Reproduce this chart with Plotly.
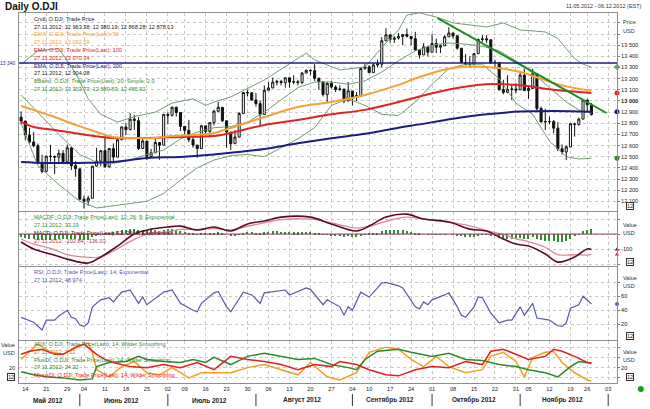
import pandas as pd
import plotly.graph_objects as go
from plotly.subplots import make_subplots

# ------------------------------------------------------------------ data
holidays = ["2012-05-28", "2012-07-04", "2012-09-03", "2012-10-29", "2012-10-30", "2012-11-22"]
first_day, last_axis_day = "2012-05-11", "2012-12-06"

opens = [12855, 12820, 12695, 12632, 12598, 12442, 12369, 12504, 12502, 12496,
         12530, 12455, 12580, 12420, 12391, 12119, 12101, 12127, 12416, 12460,
         12555, 12411, 12573, 12496, 12652, 12767, 12742, 12837, 12823, 12574,
         12640, 12502, 12535, 12627, 12603, 12879, 12871, 12943, 12897, 12772,
         12736, 12653, 12604, 12573, 12777, 12727, 12805, 12908, 12943, 12822,
         12721, 12617, 12676, 12888, 13075, 13073, 13009, 12976, 12879, 13096,
         13117, 13168, 13175, 13165, 13208, 13169, 13172, 13165, 13250, 13275,
         13271, 13203, 13172, 13057, 13158, 13125, 13103, 13107, 13000, 13090,
         13036, 13048, 13292, 13306, 13254, 13323, 13330, 13540, 13593, 13553,
         13564, 13578, 13597, 13579, 13559, 13457, 13413, 13485, 13437, 13515,
         13482, 13495, 13575, 13610, 13584, 13473, 13345, 13326, 13329, 13424,
         13552, 13557, 13549, 13343, 13344, 13103, 13077, 13104, 13107, 13099,
         13232, 13093, 13112, 13244, 12932, 12811, 12815, 12815, 12756, 12571,
         12542, 12588, 12795, 12788, 12837, 13009, 12963.38]
highs = [12907, 12820, 12760, 12720, 12618, 12518, 12510, 12606, 12510, 12563,
         12560, 12610, 12580, 12460, 12391, 12150, 12150, 12415, 12580, 12556,
         12675, 12576, 12620, 12670, 12769, 12800, 12890, 12875, 12855, 12660,
         12640, 12570, 12660, 12627, 12882, 12900, 12950, 12950, 12897, 12772,
         12830, 12680, 12604, 12785, 12777, 12810, 12920, 12990, 12943, 12822,
         12721, 12740, 12900, 13080, 13100, 13080, 13070, 13000, 13140, 13170,
         13210, 13190, 13190, 13210, 13208, 13230, 13190, 13260, 13280, 13280,
         13330, 13210, 13172, 13170, 13180, 13140, 13140, 13107, 13170, 13090,
         13080, 13292, 13330, 13320, 13340, 13370, 13573, 13653, 13593, 13580,
         13610, 13600, 13650, 13580, 13620, 13460, 13520, 13485, 13600, 13560,
         13510, 13590, 13661, 13610, 13590, 13473, 13420, 13400, 13430, 13560,
         13590, 13590, 13549, 13370, 13344, 13190, 13230, 13150, 13160, 13250,
         13290, 13140, 13290, 13244, 12950, 12930, 12860, 12830, 12810, 12610,
         12600, 12800, 12805, 12850, 13010, 13009, 12980.19]
lows = [12792, 12650, 12620, 12585, 12440, 12350, 12360, 12455, 12345, 12440,
        12440, 12455, 12380, 12320, 12107, 12035, 12060, 12127, 12410, 12413,
        12400, 12397, 12450, 12496, 12652, 12695, 12740, 12740, 12560, 12574,
        12470, 12490, 12535, 12473, 12603, 12790, 12860, 12860, 12730, 12700,
        12630, 12580, 12490, 12573, 12690, 12680, 12780, 12900, 12810, 12580,
        12560, 12617, 12676, 12888, 13040, 13000, 12950, 12780, 12879, 13096,
        13117, 13140, 13140, 13120, 13120, 13150, 13140, 13150, 13250, 13230,
        13180, 13100, 13040, 12990, 13110, 13080, 13090, 12980, 13000, 12960,
        13000, 13048, 13280, 13250, 13254, 13300, 13300, 13540, 13522, 13520,
        13550, 13500, 13570, 13500, 13450, 13380, 13413, 13400, 13437, 13430,
        13430, 13495, 13575, 13560, 13460, 13340, 13320, 13300, 13320, 13424,
        13530, 13520, 13330, 13290, 13090, 13060, 13070, 13010, 13070, 13099,
        13090, 13020, 13112, 12900, 12810, 12740, 12790, 12710, 12550, 12520,
        12470, 12588, 12680, 12780, 12837, 12900, 12868.28]
closes = [12820.6, 12695.4, 12632.0, 12598.6, 12442.5, 12369.4, 12504.5, 12502.8, 12496.2, 12529.8,
          12454.8, 12580.7, 12419.9, 12393.5, 12118.6, 12101.5, 12127.9, 12414.8, 12461.0, 12554.2,
          12411.2, 12573.8, 12496.4, 12651.9, 12767.2, 12741.8, 12837.3, 12824.4, 12573.6, 12640.8,
          12502.7, 12534.7, 12627.0, 12602.3, 12880.1, 12871.4, 12943.8, 12896.7, 12772.5, 12736.3,
          12653.1, 12604.5, 12573.3, 12777.1, 12727.2, 12805.5, 12908.7, 12943.4, 12822.6, 12721.5,
          12617.3, 12676.1, 12887.9, 13075.7, 13073.0, 13008.7, 12976.1, 12878.9, 13096.2, 13117.5,
          13168.6, 13175.6, 13165.2, 13208.0, 13169.4, 13172.1, 13164.8, 13250.1, 13275.2, 13271.6,
          13203.6, 13172.8, 13057.5, 13158.0, 13124.7, 13103.0, 13107.5, 13000.7, 13090.8, 13035.9,
          13047.5, 13292.0, 13306.6, 13254.3, 13323.4, 13333.4, 13539.9, 13593.4, 13553.1, 13564.6,
          13578.0, 13596.9, 13579.5, 13558.9, 13457.6, 13413.5, 13486.0, 13437.1, 13515.1, 13482.4,
          13494.6, 13575.4, 13610.2, 13583.7, 13473.5, 13345.0, 13326.4, 13328.9, 13424.2, 13551.8,
          13557.0, 13548.9, 13343.5, 13345.9, 13102.5, 13077.3, 13103.7, 13107.2, 13096.5, 13232.6,
          13093.2, 13112.4, 13245.7, 12932.7, 12811.3, 12815.4, 12815.1, 12756.2, 12571.0, 12542.4,
          12588.3, 12796.0, 12788.5, 12836.9, 13009.7, 12967.4, 12878.13]

ema50_dates = ["05-11", "05-16", "05-23", "05-31", "06-07", "06-13", "06-20", "06-27", "07-03", "07-11",
               "07-18", "07-24", "08-03", "08-15", "08-27", "09-07", "09-19", "09-26", "10-08", "10-18",
               "11-01", "11-13", "11-20", "11-27"]
ema50_values = [12955, 12919, 12856, 12785, 12722, 12677, 12668, 12668, 12686, 12695,
                12713, 12758, 12856, 12946, 12991, 13054, 13144, 13215, 13296, 13305,
                13260, 13160, 13115, 13092.59]

ema100_dates = ["05-11", "05-16", "05-23", "06-01", "06-13", "06-25", "07-06", "07-18", "07-24", "08-03",
                "08-15", "08-27", "09-07", "09-19", "09-26", "10-08", "10-18", "11-01", "11-13", "11-27"]
ema100_values = [12812, 12767, 12740, 12704, 12668, 12668, 12677, 12686, 12713, 12785,
                 12830, 12880, 12920, 12990, 13040, 13110, 13150, 13140, 13100, 13070.34]

ema200_dates = ["05-11", "05-21", "06-01", "06-13", "06-25", "07-06", "07-18", "07-24", "08-03", "08-15",
                "08-27", "09-07", "09-19", "09-26", "10-08", "10-18", "11-01", "11-13", "11-27"]
ema200_values = [12453, 12444, 12444, 12453, 12489, 12498, 12520, 12535, 12570, 12620,
                 12665, 12705, 12760, 12790, 12840, 12880, 12905, 12910, 12904.08]

bb_upper_dates = ["05-11", "05-17", "05-24", "05-31", "06-05", "06-08", "06-14", "06-20", "06-27", "07-03",
                  "07-11", "07-16", "07-18", "07-24", "08-03", "08-17", "08-21", "08-29", "09-07", "09-14",
                  "09-19", "09-21", "09-26", "10-02", "10-08", "10-18", "10-24", "11-01", "11-09", "11-14",
                  "11-16", "11-20", "11-23", "11-27"]
bb_upper_values = [13330, 13450, 13470, 13250, 13020, 12880, 12810, 12860, 12900, 12980,
                   13020, 12960, 12990, 13036, 13188, 13430, 13368, 13278, 13305, 13520,
                   13637, 13771, 13790, 13753, 13700, 13664, 13700, 13637, 13619, 13560,
                   13470, 13380, 13330, 13303.73]

bb_mid_dates = ["05-11", "05-17", "05-24", "06-01", "06-07", "06-13", "06-19", "06-25", "06-29", "07-06",
                "07-12", "07-18", "07-24", "07-30", "08-03", "08-09", "08-15", "08-21", "08-27", "08-31",
                "09-07", "09-13", "09-19", "09-25", "10-01", "10-05", "10-11", "10-17", "10-23", "10-31",
                "11-06", "11-12", "11-16", "11-21", "11-27"]
bb_mid_values = [13054, 12900, 12700, 12520, 12450, 12440, 12470, 12520, 12560, 12660,
                 12720, 12760, 12770, 12810, 12900, 13010, 13120, 13170, 13170, 13150,
                 13180, 13260, 13360, 13450, 13500, 13520, 13510, 13490, 13450, 13360,
                 13250, 13120, 12990, 12920, 12889.83]
bb_lower_values = [12800, 12420, 12250, 12100, 12040, 12060, 12080, 12100, 12170, 12290,
                   12400, 12470, 12510, 12520, 12500, 12580, 12660, 12760, 12960, 13020,
                   12960, 12880, 12870, 12990, 13150, 13290, 13330, 13330, 13200, 12980,
                   12880, 12640, 12500, 12480, 12485.92]

resistance_level = 13340
trend_sessions = [99.3, 139.6]          # trading-session numbers of the drawn trendline ends
trend_values = [13742, 12892]

macd_dates = ["05-11", "05-16", "05-22", "05-29", "06-05", "06-08", "06-14", "06-20", "06-26", "07-02",
              "07-06", "07-12", "07-18", "07-24", "07-30", "08-03", "08-09", "08-20", "08-27", "09-05",
              "09-10", "09-14", "09-21", "09-27", "10-05", "10-12", "10-18", "10-24", "10-31", "11-05",
              "11-09", "11-14", "11-20", "11-26", "11-27"]
macd_values = [-53, -100, -133, -167, -193, -153, -80, 0, 33, 47,
               53, 27, 47, 20, 67, 87, 113, 113, 67, 20,
               53, 113, 133, 100, 80, 33, 20, -33, -67, -80,
               -133, -187, -153, -100, -102.84]
signal_values = [-33, -67, -95, -137, -155, -153, -98, -35, 8, 15,
                 31, 30, 37, 28, 52, 75, 96, 99, 75, 40,
                 51, 85, 113, 100, 80, 55, 23, -3, -32, -50,
                 -88, -137, -138, -140, -136.03]
macd_hist = [-20, -25, -30, -33, -38, -42, -40, -38, -38, -35, -35, -30, -32, -33,
             -40, -42, -38, -20, -10, 0, 5,
             10, 12, 18, 25, 28, 33, 35, 30, 30, 25, 25, 25, 22, 30,
             32, 33, 30, 22, 15, 8, 2, -3, 2, 2, 5, 10, 12,
             8, 0, -8, -10, -3, 8, 15, 14, 10, 5,
             12, 15, 18, 18, 17, 17, 15, 13, 12, 14, 15, 14, 10,
             5, -3, -5, -8, -10, -12, -18, -15, -18, -20, -8, -2,
             2, 5, 8, 20, 28, 30, 30, 28, 25, 20, 15,
             8, 2, 0, -5, -3, -5, -6, -3, 0, -2, -8, -15,
             -20, -22, -18, -10, -5, -3, -10, -12, -25, -30, -33, -35, -35,
             -28, -30, -30, -22, -35, -42, -45, -45, -48, -50, -50, -48, -30,
             -15, -2, 20, 30, 33.19]

rsi_dates = ["05-11", "05-16", "05-18", "05-21", "05-23", "05-24", "05-29", "05-30", "05-31", "06-01",
             "06-04", "06-05", "06-06", "06-08", "06-12", "06-13", "06-15", "06-19", "06-21", "06-22",
             "06-25", "06-27", "06-29", "07-03", "07-06", "07-11", "07-12", "07-13", "07-18", "07-19",
             "07-23", "07-24", "07-27", "07-31", "08-02", "08-03", "08-10", "08-13", "08-17", "08-20",
             "08-23", "08-24", "08-29", "08-30", "08-31", "09-04", "09-06", "09-10", "09-13", "09-14",
             "09-19", "09-20", "09-25", "09-26", "09-27", "09-28", "10-01", "10-04", "10-05", "10-09",
             "10-10", "10-11", "10-15", "10-16", "10-17", "10-19", "10-23", "10-25", "10-26", "11-01",
             "11-02", "11-06", "11-07", "11-12", "11-14", "11-15", "11-16", "11-19", "11-21", "11-23",
             "11-26", "11-27"]
rsi_values = [30, 23, 12, 26, 26, 32, 40, 30, 28, 19,
              17, 22, 45, 55, 58, 52, 66, 69, 50, 59,
              48, 57, 66, 69, 50, 40, 38, 50, 65, 67,
              45, 38, 66, 62, 50, 65, 69, 62, 72, 70,
              48, 55, 45, 33, 45, 40, 66, 59, 79, 80,
              75, 72, 45, 42, 52, 48, 55, 62, 65, 45,
              33, 30, 45, 59, 58, 36, 22, 26, 26, 45,
              33, 50, 29, 26, 18, 17, 22, 43, 48, 60,
              55, 48.974]

plus_di_dates = ["05-11", "05-16", "05-21", "05-25", "06-01", "06-06", "06-07", "06-12", "06-18", "06-21",
                 "06-25", "06-29", "07-06", "07-11", "07-16", "07-18", "07-24", "07-30", "08-03", "08-09",
                 "08-15", "08-21", "08-27", "08-31", "09-05", "09-07", "09-12", "09-19", "09-24", "10-01",
                 "10-05", "10-11", "10-17", "10-23", "10-31", "11-05", "11-09", "11-14", "11-19", "11-21",
                 "11-26", "11-27"]
plus_di_values = [16, 13, 11, 10, 8, 9, 21, 25, 26, 31,
                  28, 26, 25, 28, 25, 30, 23, 31, 34, 31,
                  28, 29, 23, 20, 18, 28, 36, 38, 35, 31,
                  34, 28, 27, 23, 21, 18, 15, 11, 21, 26,
                  25, 24.22]
minus_di_dates = ["05-11", "05-15", "05-18", "05-23", "05-25", "05-31", "06-04", "06-07", "06-11", "06-13",
                  "06-19", "06-25", "06-29", "07-06", "07-12", "07-18", "07-24", "07-30", "08-03", "08-09",
                  "08-15", "08-21", "08-27", "08-29", "09-05", "09-10", "09-14", "09-19", "09-25", "10-01",
                  "10-05", "10-11", "10-17", "10-19", "10-24", "11-01", "11-05", "11-09", "11-13", "11-15",
                  "11-20", "11-26", "11-27"]
minus_di_values = [33, 36, 38, 33, 33, 40, 43, 33, 28, 25,
                   21, 20, 23, 20, 25, 18, 31, 28, 26, 23,
                   18, 23, 21, 26, 23, 18, 13, 12, 18, 21,
                   20, 26, 23, 36, 38, 31, 28, 31, 38, 36,
                   31, 25, 24.5]
adx_dates = ["05-11", "05-15", "05-17", "05-22", "05-25", "06-01", "06-05", "06-06", "06-07", "06-12",
             "06-15", "06-20", "06-25", "06-28", "07-03", "07-10", "07-13", "07-18", "07-24", "07-30",
             "08-03", "08-09", "08-15", "08-20", "08-24", "08-29", "09-05", "09-10", "09-14", "09-19",
             "09-24", "09-27", "10-02", "10-05", "10-11", "10-17", "10-19", "10-24", "10-31", "11-02",
             "11-06", "11-09", "11-13", "11-15", "11-20", "11-26", "11-27"]
adx_values = [28, 36, 43, 35, 33, 41, 44, 35, 18, 11,
              21, 26, 15, 13, 20, 10, 15, 15, 15, 20,
              23, 18, 13, 25, 11, 8, 15, 35, 40, 38,
              28, 21, 31, 21, 15, 18, 31, 35, 26, 11,
              30, 35, 36, 25, 15, 8, 7]
dmi_level = 25
rsi_levels = [70, 30]

week_tick_dates = ["05-14", "05-21", "05-29", "06-04", "06-11", "06-18", "06-25", "07-02", "07-09", "07-16",
                   "07-23", "07-30", "08-06", "08-13", "08-20", "08-27", "09-04", "09-10", "09-17", "09-24",
                   "10-01", "10-08", "10-15", "10-22", "10-31", "11-05", "11-12", "11-19", "11-26", "12-03"]
month_names = ["Май 2012", "Июнь 2012", "Июль 2012", "Август 2012", "Сентябрь 2012", "Октябрь 2012", "Ноябрь 2012"]
month_numbers = [5, 6, 7, 8, 9, 10, 11]

# ------------------------------------------------------------------ calendar (trading sessions)
calendar = [d.strftime("%Y-%m-%d") for d in pd.bdate_range(first_day, last_axis_day)
            if d.strftime("%Y-%m-%d") not in holidays]
session = {d: i for i, d in enumerate(calendar)}


def S(dates):
    return [session["2012-" + d] for d in dates]


n = len(closes)
candle_x = list(range(n))
X_RANGE = [-0.5, 142.1]

# ------------------------------------------------------------------ geometry / style
W, H = 650, 409
ML, MR, MT, MB = 19, 29, 13, 26
PW, PH = W - ML - MR, H - MT - MB


def px(x):
    return (x - ML) / PW


def py(y):
    return (H - MB - y) / PH


FONT = "Liberation Sans, Arial, sans-serif"
ORANGE, RED, NAVY = "#f2a332", "#e02424", "#1c1c84"
BBG, TREND = "#6f9f6f", "#1f8c1f"
MACD_C, SIG_C, HIST_C = "#5c0a2c", "#d9899a", "#2f8f2f"
RSI_C, RSI_LVL = "#5858aa", "#9090d0"
DMI_G, DMI_R, DMI_O = "#2a8a2a", "#e02020", "#f0a020"
GRID, FRAME = "#c9c9c9", "#8e8e8e"
TXT = 5.6

fig = make_subplots(rows=4, cols=1, shared_xaxes=True, vertical_spacing=0.0)

# main panel
fig.add_trace(go.Scatter(x=S(bb_upper_dates), y=bb_upper_values, mode="lines",
                         line=dict(color=BBG, width=1)), row=1, col=1)
fig.add_trace(go.Scatter(x=S(bb_mid_dates), y=bb_mid_values, mode="lines",
                         line=dict(color=BBG, width=1)), row=1, col=1)
fig.add_trace(go.Scatter(x=S(bb_mid_dates), y=bb_lower_values, mode="lines",
                         line=dict(color=BBG, width=1)), row=1, col=1)
fig.add_trace(go.Scatter(x=S(ema200_dates), y=ema200_values, mode="lines",
                         line=dict(color=NAVY, width=2, shape="spline")), row=1, col=1)
fig.add_trace(go.Scatter(x=S(ema100_dates), y=ema100_values, mode="lines",
                         line=dict(color=RED, width=2, shape="spline")), row=1, col=1)
fig.add_trace(go.Scatter(x=S(ema50_dates), y=ema50_values, mode="lines",
                         line=dict(color=ORANGE, width=2, shape="spline")), row=1, col=1)
fig.add_trace(go.Candlestick(x=candle_x, open=opens, high=highs, low=lows, close=closes,
                             increasing=dict(line=dict(color="#111", width=1), fillcolor="white"),
                             decreasing=dict(line=dict(color="#111", width=1), fillcolor="#111"),
                             whiskerwidth=0), row=1, col=1)
fig.add_hline(y=resistance_level, line=dict(color=NAVY, width=1.5), row=1, col=1)
fig.add_trace(go.Scatter(x=trend_sessions, y=trend_values, mode="lines",
                         line=dict(color=TREND, width=2)), row=1, col=1)
edge = [X_RANGE[1]]
for val, col, sym in [(bb_upper_values[-1], BBG, "diamond"), (ema100_values[-1], RED, "circle"),
                      (ema200_values[-1], NAVY, "circle"), (bb_lower_values[-1], "#2a8a2a", "circle")]:
    fig.add_trace(go.Scatter(x=edge, y=[val], mode="markers", cliponaxis=False,
                             marker=dict(color=col, size=5, symbol=sym)), row=1, col=1)

# MACD panel
fig.add_trace(go.Bar(x=candle_x, y=macd_hist, marker=dict(color=HIST_C, line=dict(width=0)),
                     width=0.3), row=2, col=1)
fig.add_hline(y=0, line=dict(color="#8a3a60", width=1), row=2, col=1)
fig.add_trace(go.Scatter(x=S(macd_dates), y=signal_values, mode="lines",
                         line=dict(color=SIG_C, width=1.3, shape="spline")), row=2, col=1)
fig.add_trace(go.Scatter(x=S(macd_dates), y=macd_values, mode="lines",
                         line=dict(color=MACD_C, width=1.6, shape="spline")), row=2, col=1)
for val, col in [(macd_values[-1], MACD_C), (signal_values[-1], "#c02040")]:
    fig.add_trace(go.Scatter(x=edge, y=[val], mode="markers", cliponaxis=False,
                             marker=dict(color=col, size=4, symbol="triangle-up")), row=2, col=1)

# RSI panel
for lvl in rsi_levels:
    fig.add_hline(y=lvl, line=dict(color=RSI_LVL, width=1.2), row=3, col=1)
fig.add_trace(go.Scatter(x=S(rsi_dates), y=rsi_values, mode="lines",
                         line=dict(color=RSI_C, width=1.2)), row=3, col=1)
fig.add_trace(go.Scatter(x=edge, y=[rsi_values[-1]], mode="markers", cliponaxis=False,
                         marker=dict(color=RSI_C, size=4)), row=3, col=1)

# DMI panel
fig.add_hline(y=dmi_level, line=dict(color="#f3b24a", width=1), row=4, col=1)
fig.add_trace(go.Scatter(x=S(adx_dates), y=adx_values, mode="lines",
                         line=dict(color=DMI_O, width=1.5)), row=4, col=1)
fig.add_trace(go.Scatter(x=S(plus_di_dates), y=plus_di_values, mode="lines",
                         line=dict(color=DMI_G, width=1.5)), row=4, col=1)
fig.add_trace(go.Scatter(x=S(minus_di_dates), y=minus_di_values, mode="lines",
                         line=dict(color=DMI_R, width=1.5)), row=4, col=1)

# ------------------------------------------------------------------ axes
tick_pos = S(week_tick_dates)
tick_txt = [d[-2:] for d in week_tick_dates]
axis_common = dict(showgrid=True, gridcolor=GRID, griddash="dot", gridwidth=1, zeroline=False,
                   showline=True, mirror=True, linecolor=FRAME, linewidth=1)
for i in range(1, 5):
    fig.update_xaxes(range=X_RANGE, tickvals=tick_pos, ticktext=tick_txt, ticks="",
                     showticklabels=(i == 4), tickfont=dict(family=FONT, size=TXT, color="#222"),
                     rangeslider=dict(visible=False), row=i, col=1, **axis_common)

price_ticks = list(range(12100, 13800, 100))
price_text = []
for v in price_ticks:
    s = f"{v:,}".replace(",", " ")
    if v > 13500:
        s = ""
    elif v == 13000:
        s = "<b>" + s + "</b>"
    price_text.append(s)

ycommon = dict(side="right", ticks="outside", ticklen=2, tickcolor="#777",
               tickfont=dict(family=FONT, size=TXT, color="#222"), **axis_common)
fig.update_yaxes(range=[12013, 13789], tickvals=price_ticks, ticktext=price_text, row=1, col=1, **ycommon)
fig.update_yaxes(range=[-213, 147], tickvals=[-200, -100, 0, 100], ticktext=["", "-100", "", ""],
                 row=2, col=1, **ycommon)
fig.update_yaxes(range=[-2.4, 101.9], tickvals=[20, 40, 60, 80], ticktext=["20", "40", "60", ""],
                 row=3, col=1, **ycommon)
fig.update_yaxes(range=[5, 46], tickvals=[10, 20, 30, 40], ticktext=["", "20", "", ""],
                 row=4, col=1, **ycommon)

fig.update_layout(
    yaxis=dict(domain=[py(211), py(MT)]),
    yaxis2=dict(domain=[py(266), py(212)]),
    yaxis3=dict(domain=[py(340), py(267)]),
    yaxis4=dict(domain=[py(H - MB), py(341)]),
)

# ------------------------------------------------------------------ texts
ann = []


def note(text, x, y, color="#222", size=TXT, xanchor="left", xref="paper", yref="paper", bold=False,
         border=None):
    d = dict(text=("<b>%s</b>" % text) if bold else text, x=x, y=y, xref=xref, yref=yref,
             xanchor=xanchor, yanchor="middle", showarrow=False,
             font=dict(family=FONT, size=size, color=color))
    if border:
        d.update(bordercolor=border, borderwidth=1, borderpad=0, bgcolor="white")
    ann.append(d)


note("Daily O.DJI", px(3), py(7), size=10, color="#111", bold=True)
note("11.05.2012 - 06.12.2012 (EST)", px(648), py(6), size=5.5, xanchor="right", color="#333")

main_legend = [
    ("Cndl; O.DJI; Trade Price", "#222"),
    ("27.11.2012; 12 963.38; 12 980.19; 12 868.28; 12 878.13", "#222"),
    ("EMA; O.DJI; Trade Price(Last); 50", ORANGE),
    ("27.11.2012; 13 092.59", ORANGE),
    ("EMA; O.DJI; Trade Price(Last); 100", RED),
    ("27.11.2012; 13 070.34", RED),
    ("EMA; O.DJI; Trade Price(Last); 200", NAVY),
    ("27.11.2012; 12 904.08", "#222"),
    ("BBand; O.DJI; Trade Price(Last); 20; Simple; 2.0", "#3f8a3f"),
    ("27.11.2012; 13 303.73; 12 889.83; 12 485.92", "#3f8a3f"),
]
for k, (t, c) in enumerate(main_legend):
    note(t, px(32), py(19 + 7.75 * k), color=c)

macd_legend = [
    ("MACDF; O.DJI; Trade Price(Last); 12; 26; 9; Exponential", "#2f8f2f"),
    ("27.11.2012; 33.19", "#2f8f2f"),
    ("MACD; O.DJI; Trade Price(Last); 12; 26; 9; Exponential", MACD_C),
    ("27.11.2012; -102.84; -136.03", "#c03050"),
]
for k, (t, c) in enumerate(macd_legend):
    note(t, px(32), py(217 + 8 * k), color=c)

note("RSI; O.DJI; Trade Price(Last); 14; Exponential", px(32), py(272), color=RSI_C)
note("27.11.2012; 48.974", px(32), py(280), color=RSI_C)

dmi_legend = [
    ("ADX; O.DJI; Trade Price(Last); 14; Wilder Smoothing", "#3f7f3f"),
    ("27.11.2012; 7.12", "#c08020"),
    ("PlusDI; O.DJI; Trade Price(Last); 14; Wilder Smoothing", DMI_G),
    ("27.11.2012; 24.22", DMI_G),
    ("MinusDI; O.DJI; Trade Price(Last); 14; Wilder Smoothing", DMI_R),
]
for k, (t, c) in enumerate(dmi_legend):
    note(t, px(32), py(344 + 7.8 * k), color=c)

# right-hand axis captions
for t, y in [("Price", 22), ("USD", 31), ("Value", 225), ("USD", 233),
             ("Value", 278), ("USD", 286), ("Value", 352), ("USD", 360)]:
    note(t, px(625), py(y), color="#333")
for y in [206, 262, 336, 377]:
    note("12", px(630), py(y), color="#222", border="#333")
# left captions of the bottom panel
for t, y in [("Value", 345), ("USD", 353)]:
    note(t, px(17), py(y), color="#333", xanchor="right")
note("20", px(17), 20, color="#333", xanchor="right", yref="y4")
note("12", px(15), py(377), color="#222", xanchor="right", border="#333")
note("13 340", px(18), resistance_level, size=5, color=NAVY, xanchor="right", yref="y")

# month labels and separators
shapes = []
for name, m in zip(month_names, month_numbers):
    days = [session[d] for d in calendar if int(d[5:7]) == m and session[d] <= X_RANGE[1]]
    note(name, sum(days) / len(days), py(400), size=6.5, color="#222", bold=True, xref="x4",
         xanchor="center")
for m in month_numbers[1:] + [12]:
    start = min(session[d] for d in calendar if int(d[5:7]) == m)
    shapes.append(dict(type="line", xref="x4", yref="paper", x0=start, x1=start,
                       y0=py(394), y1=py(406), line=dict(color="#333", width=1)))
shapes.append(dict(type="circle", xref="paper", yref="paper", x0=px(642), x1=px(648),
                   y0=py(392), y1=py(386), fillcolor="#1c9a1c", line=dict(width=0)))

fig.update_layout(
    width=W, height=H, margin=dict(l=ML, r=MR, t=MT, b=MB),
    paper_bgcolor="white", plot_bgcolor="white", showlegend=False,
    font=dict(family=FONT, size=TXT), annotations=ann, shapes=list(fig.layout.shapes) + shapes,
    bargap=0, hovermode=False,
)
fig.write_html("out.html", config={"displayModeBar": False},
               post_script="document.body.style.margin='0px';document.body.style.overflow='hidden';")
